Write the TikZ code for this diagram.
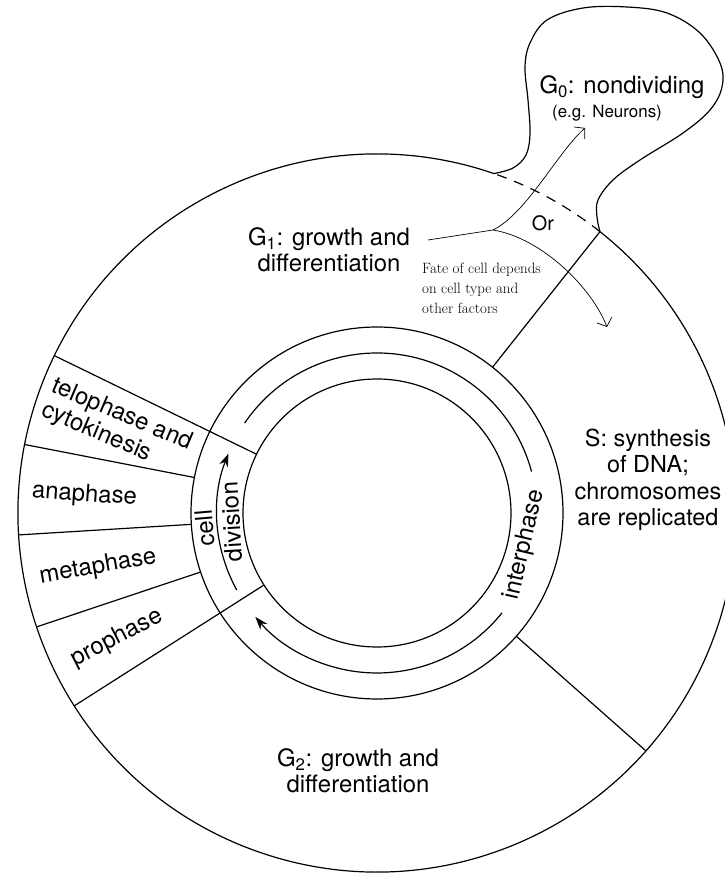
\documentclass[tikz,border=0pt]{standalone}
\usepackage{fontspec}
\newfontfamily\helv{TeX Gyre Heros}
\usetikzlibrary{arrows.meta}
\tikzset{
  ringline/.style={line width=1.2bp},
  fateline/.style={line width=0.7bp},
  cyclearrow/.style={ringline, -{Stealth[length=13bp,width=9bp]}},
  fatearrow/.style={fateline, -{Straight Barb[length=7bp,width=16bp]}},
  stagelabel/.style={font=\helv\fontsize{24}{26}\selectfont, align=center, inner sep=0pt},
  phaselabel/.style={font=\helv\fontsize{24}{25}\selectfont, inner sep=0pt},
  fatelabel/.style={font=\fontsize{15}{20}\selectfont, align=left, inner sep=0pt}
}
\begin{document}
\begin{tikzpicture}[x=1bp,y=1bp]
% \clip to the page
\useasboundingbox (-377,-361) rectangle (348,513);
\clip (-377,-361) rectangle (348,513);

% Drawing outer circle, open where G0 leaves it
\draw [ringline] (71:359) arc [start angle=71, end angle=411.6, radius=359];
\draw [ringline, dash pattern=on 10bp off 8bp] (51.6:359) arc [start angle=51.6, end angle=71, radius=359];

% Drawing G0 bulge
\draw [ringline] plot [smooth, tension=0.6] coordinates {(71:359) (136,345) (149,358) (153,380) (151,413) (148,446) (153,470) (170,493) (206,505) (250,506) (290,500) (323,480) (343,450) (345,426) (333,403) (306,380) (263,353) (236,333) (221,313) (220,296) (51.6:359)};

% Drawing inner rings
\draw [ringline] (0,0) circle (134);
\draw [ringline] (0,0) circle (186);

% Drawing lines between stages
\draw [ringline] (51.6:186) -- (51.6:359);
\draw [ringline] (-41.5:186) -- (-41.5:359);
\draw [ringline] (154:134) -- (154:359);
\draw [ringline] (212.5:134) -- (212.5:359);

% Drawing lines between phases of division
\draw [ringline] (169:186) -- (169:359);
\draw [ringline] (183.5:186) -- (183.5:359);
\draw [ringline] (198.5:186) -- (198.5:359);

% Drawing cycle arrows
\draw [cyclearrow] (208.8:160) arc [start angle=208.8, end angle=158.2, radius=160];
\draw [ringline] (145.8:160) arc [start angle=145.8, end angle=15, radius=160];
\draw [cyclearrow] (-38.6:160) arc [start angle=-38.6, end angle=-139.5, radius=160];

% Marking stages
\node [stagelabel] (gzero) at (245,426) {G\textsubscript{0}: nondividing};
\node [font=\helv\fontsize{17}{18}\selectfont, inner sep=0pt] (neurons) at (230,400) {(e.g. Neurons)};
\node [stagelabel] (gone) at (-48,263) {G\textsubscript{1}: growth and\\differentiation};
\node [stagelabel] (gtwo) at (-19,-258) {G\textsubscript{2}: growth and\\differentiation};
\node [stagelabel, font=\helv\fontsize{23.5}{26.5}\selectfont] (sphase) at (271,33) {S: synthesis\\of DNA;\\chromosomes\\are replicated};

% Marking phases of division
\node [phaselabel, rotate=-23, align=left, font=\helv\fontsize{24}{26}\selectfont] (telolabel) at (-260,86) {telophase and\\cytokinesis};
\node [phaselabel, rotate=-4] (analabel) at (-292.5,18) {anaphase};
\node [phaselabel, rotate=10] (metalabel) at (-279,-54) {metaphase};
\node [phaselabel, rotate=27] (prolabel) at (-260,-125) {prophase};
\node [phaselabel, rotate=95] (celllabel) at (185:173) {cell};
\node [phaselabel, rotate=93.5] (divlabel) at (183.5:146) {division};
\node [phaselabel, rotate=77] (interlabel) at (-12.2:151) {interphase};

% Drawing fate of G1 cell
\coordinate (fatestart) at (51,273);
\coordinate (fork) at (116,283);
\coordinate (zerotip) at (208,385);
\coordinate (stip) at (230,186);
\draw [fateline] (fatestart) -- (fork);
\draw [fatearrow] (fork) .. controls (150,300) and (180,360) .. (zerotip);
\draw [fatearrow] (fork) .. controls (165,275) and (215,225) .. (stip);
\node [font=\helv\fontsize{20}{22}\selectfont, inner sep=0pt] (orlabel) at (166,290) {Or};
\node [fatelabel, anchor=west] (fate) at (45,225) {Fate of cell depends\\on cell type and\\other factors};
\end{tikzpicture}
\end{document}
